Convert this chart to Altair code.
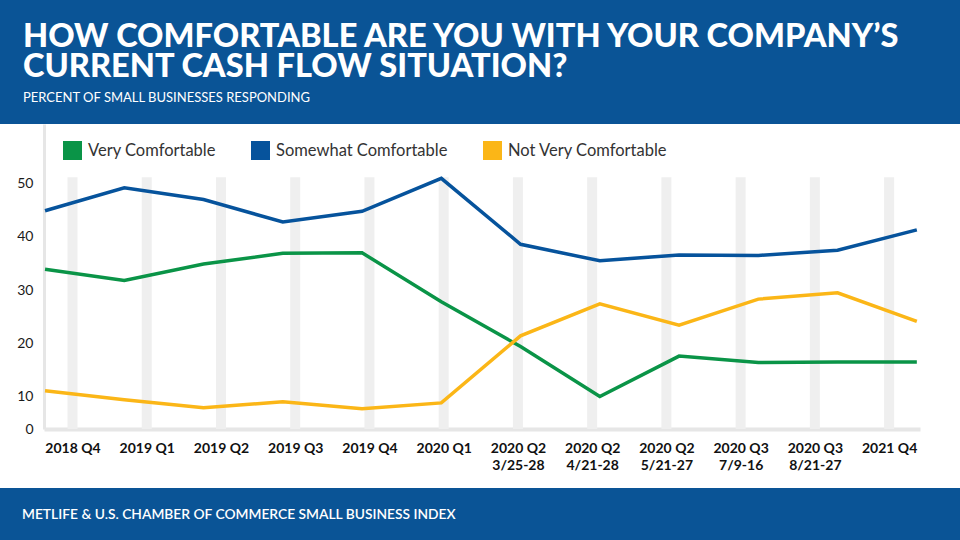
import altair as alt
import pandas as pd

# ---------------- data ----------------
QUARTERS = ["2018 Q4", "2019 Q1", "2019 Q2", "2019 Q3", "2019 Q4", "2020 Q1",
            "2020 Q2", "2020 Q2", "2020 Q2", "2020 Q3", "2020 Q3", "2021 Q4"]
DATES = ["", "", "", "", "", "", "3/25-28", "4/21-28", "5/21-27", "7/9-16", "8/21-27", ""]
SERIES = ["Very Comfortable", "Somewhat Comfortable", "Not Very Comfortable"]
VERY = [33.9, 31.8, 34.9, 36.9, 37.0, 27.8, 19.4, 10.0, 17.6, 16.4, 16.5, 16.5]
SOMEWHAT = [44.9, 49.2, 47.0, 42.8, 44.8, 51.0, 38.6, 35.5, 36.6, 36.5, 37.5, 41.3]
NOT_VERY = [11.1, 9.4, 7.9, 9.0, 7.7, 8.8, 21.4, 27.4, 23.4, 28.3, 29.5, 24.1]
Y_TICKS = [10, 20, 30, 40, 50]
TITLE_LINES = ["HOW COMFORTABLE ARE YOU WITH YOUR COMPANY\u2019S",
               "CURRENT CASH FLOW SITUATION?"]
SUBTITLE = "PERCENT OF SMALL BUSINESSES RESPONDING"
FOOTER = "METLIFE & U.S. CHAMBER OF COMMERCE SMALL BUSINESS INDEX"

# ---------------- styling ----------------
COLORS = ["#0a9447", "#06539c", "#fbb617"]
HEADER_BLUE = "#0a5496"
Y_MIN, Y_MAX, BAND_TOP = 3.9, 61.2, 51.2
W, H = 876, 305
PAD = {"left": 44, "top": 124, "right": 40, "bottom": 111}
FONT = "Lato"

cats = [q + "|" + d for q, d in zip(QUARTERS, DATES)]
lines_df = pd.DataFrame({
    "idx": list(range(len(cats))) * 3,
    "series": sum([[s] * len(cats) for s in SERIES], []),
    "value": VERY + SOMEWHAT + NOT_VERY,
})
cat_df = pd.DataFrame({"cat": cats})

y_scale = alt.Scale(domain=[Y_MIN, Y_MAX], nice=False, zero=False)
y_axis = alt.Axis(values=[Y_MIN] + Y_TICKS, title=None, ticks=False, grid=False,
                  labelExpr="datum.value < 5 ? '0' : datum.label",
                  labelPadding=11, labelFontSize=14, labelColor="#1a1a1a",
                  labelFont=FONT, domainColor="#e6e6e6", domainWidth=3)

bands = alt.Chart(cat_df).mark_rule(color="#efefef", strokeWidth=10).encode(
    x=alt.X("cat:N", sort=None,
            scale=alt.Scale(type="point", padding=0.4, align=0.48),
            axis=alt.Axis(title=None, labelAngle=0, ticks=False,
                          labelExpr="split(datum.label, '|')",
                          labelFont=FONT, labelFontWeight="bold", labelFontSize=14,
                          labelColor="#111111", labelLineHeight=17, labelPadding=12,
                          labelOverlap=False, domainColor="#e6e6e6", domainWidth=4)),
    y=alt.Y(datum=BAND_TOP, type="quantitative", scale=y_scale, axis=y_axis),
    y2=alt.Y2(datum=Y_MIN),
)

lines = alt.Chart(lines_df).mark_line(strokeWidth=3.5).encode(
    x=alt.X("idx:Q", scale=alt.Scale(domain=[-0.013, 11.04], nice=False, zero=False),
            axis=None),
    y=alt.Y("value:Q", scale=y_scale, axis=y_axis),
    color=alt.Color("series:N", sort=SERIES,
                    scale=alt.Scale(domain=SERIES, range=COLORS),
                    legend=alt.Legend(orient="none", legendX=19, legendY=17,
                                      direction="horizontal", title=None,
                                      symbolType="square", symbolSize=1,
                                      symbolStrokeWidth=18, symbolOpacity=1,
                                      labelFont=FONT, labelFontSize=16.5,
                                      labelColor="#333333", labelOffset=6,
                                      labelLimit=400,
                                      columnPadding=8, padding=0)),
)

one = pd.DataFrame({"k": [0]})
header = alt.Chart(one).mark_rect(color=HEADER_BLUE).encode(
    x=alt.value(-PAD["left"]), x2=alt.value(W + PAD["right"]),
    y=alt.value(-PAD["top"]), y2=alt.value(0))
footer = alt.Chart(one).mark_rect(color=HEADER_BLUE).encode(
    x=alt.value(-PAD["left"]), x2=alt.value(W + PAD["right"]),
    y=alt.value(364), y2=alt.value(H + PAD["bottom"]))
title = alt.Chart(one).mark_text(align="left", baseline="alphabetic", color="white",
                                 font=FONT, fontWeight=900, fontSize=32.6,
                                 lineHeight=30).encode(
    x=alt.value(-21), y=alt.value(-77), text=alt.value(TITLE_LINES))
subtitle = alt.Chart(one).mark_text(align="left", baseline="alphabetic", color="white",
                                    font=FONT, fontSize=13).encode(
    x=alt.value(-21), y=alt.value(-22), text=alt.value(SUBTITLE))
foot_text = alt.Chart(one).mark_text(align="left", baseline="alphabetic", color="white",
                                     font=FONT, fontWeight=600, fontSize=13.8).encode(
    x=alt.value(-22), y=alt.value(395), text=alt.value(FOOTER))

chart = alt.layer(header, footer, bands, lines, title, subtitle, foot_text).resolve_scale(
    x="independent"
).properties(
    width=W, height=H,
    autosize=alt.AutoSizeParams(type="none"),
    padding=PAD,
    background="white",
).configure_view(stroke=None)

chart.save("out.html", embed_options={"renderer": "svg", "actions": False})
